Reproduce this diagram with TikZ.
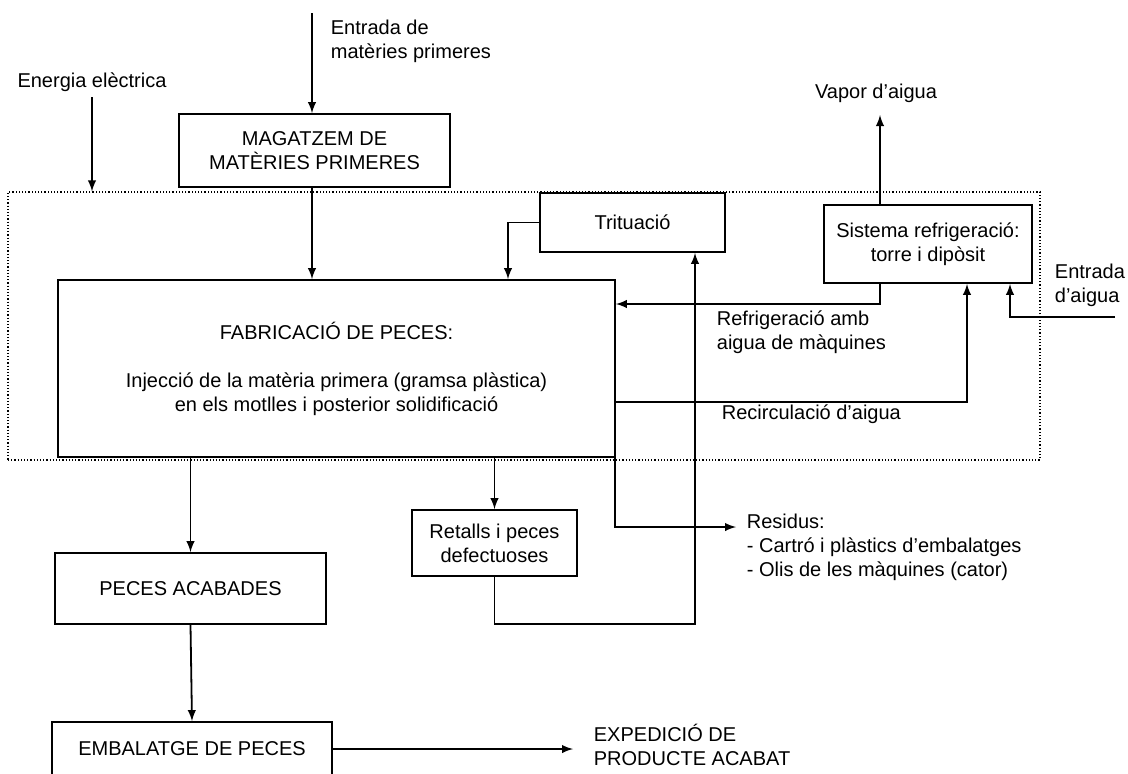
\documentclass[tikz,border=0pt]{standalone}
\usepackage{fontspec}
\setmainfont{Liberation Sans}
\usetikzlibrary{arrows}

\begin{document}
\begin{tikzpicture}[>=latex, x=0.5pt, y=-0.5pt, line width=0.9pt,
  every node/.style={font=\fontsize{10}{12}\selectfont, inner sep=0pt},
  box/.style={draw, align=center},
  txt/.style={align=left, anchor=west},
  frame/.style={draw, densely dotted, line width=0.6pt}]
\clip (0,0) rectangle (1128,773);
\node [frame, minimum width=516pt, minimum height=134pt] (planta) at (524,326) {};
\node [box, minimum width=135.5pt, minimum height=36.5pt] (mag) at (314.5,150.5) {MAGATZEM DE\\MATÈRIES PRIMERES};
\node [box, minimum width=92.5pt, minimum height=29.5pt] (trit) at (632.5,222.5) {Trituació};
\node [box, minimum width=104pt, minimum height=39pt] (sist) at (928,244) {Sistema refrigeració:\\torre i dipòsit};
\node [box, minimum width=278.5pt, minimum height=88.5pt] (fab) at (336.5,368.5) {FABRICACIÓ DE PECES:\\[12pt]Injecció de la matèria primera (gramsa plàstica)\\en els motlles i posterior solidificació};
\node [box, minimum width=82.5pt, minimum height=33pt] (ret) at (494.5,543) {Retalls i peces\\defectuoses};
\node [box, minimum width=135.5pt, minimum height=35.5pt] (pa) at (190.5,588.5) {PECES ACABADES};
\node [box, minimum width=140pt, minimum height=27pt] (emb) at (192,749) {EMBALATGE DE PECES};
\node (en) at (92,82) {Energia elèctrica};
\node [txt] (ent) at (330,41.5) {Entrada de\\matèries primeres};
\node (vap) at (876,93) {Vapor d'aigua};
\node [txt] (entaig) at (1054,285.5) {Entrada\\d'aigua};
\node [txt] (refr) at (716,332.5) {Refrigeració amb\\aigua de màquines};
\node [txt] (recirc) at (721,414) {Recirculació d'aigua};
\node [txt] (res) at (746,547) {Residus:\\- Cartró i plàstics d'embalatges\\- Olis de les màquines (cator)};
\node [txt] (exp) at (593,744.5) {EXPEDICIÓ DE\\PRODUCTE ACABAT};
\coordinate (entin) at (312,13);
\coordinate (enin) at (92,97);
\coordinate (tx) at (508,223);
\coordinate (rf) at (880,304);
\coordinate (vapout) at (880,115);
\coordinate (rc) at (967,402);
\coordinate (aig) at (1010,317);
\coordinate (aigin) at (1115,317);
\coordinate (rl) at (695,624);
\coordinate (rs) at (615,527);
\coordinate (resin) at (736,527);
\coordinate (expin) at (573,749);
\draw [->] (entin) -- (entin |- mag.north);
\draw [->] (enin) -- (enin |- planta.north);
\draw [->] (entin |- mag.south) -- (entin |- fab.north);
\draw [->] (trit.west) -| (tx |- fab.north);
\draw [->] (rf |- sist.south) -- (rf) -- (rf -| fab.east);
\draw [->] (rf |- sist.north) -- (vapout);
\draw [->] (rc -| fab.east) -- (rc) -- (rc |- sist.south);
\draw [->] (aigin) -- (aig) -- (aig |- sist.south);
\draw [->] (pa.north |- fab.south) -- (pa.north);
\draw [->] (pa.south) -- (emb.north);
\draw [->] (ret.north |- fab.south) -- (ret.north);
\draw [->] (ret.south) |- (rl) -- (rl |- trit.south);
\draw [->] (rs |- fab.south) -- (rs) -- (resin);
\draw [->] (emb.east) -- (expin);
\end{tikzpicture}
\end{document}
